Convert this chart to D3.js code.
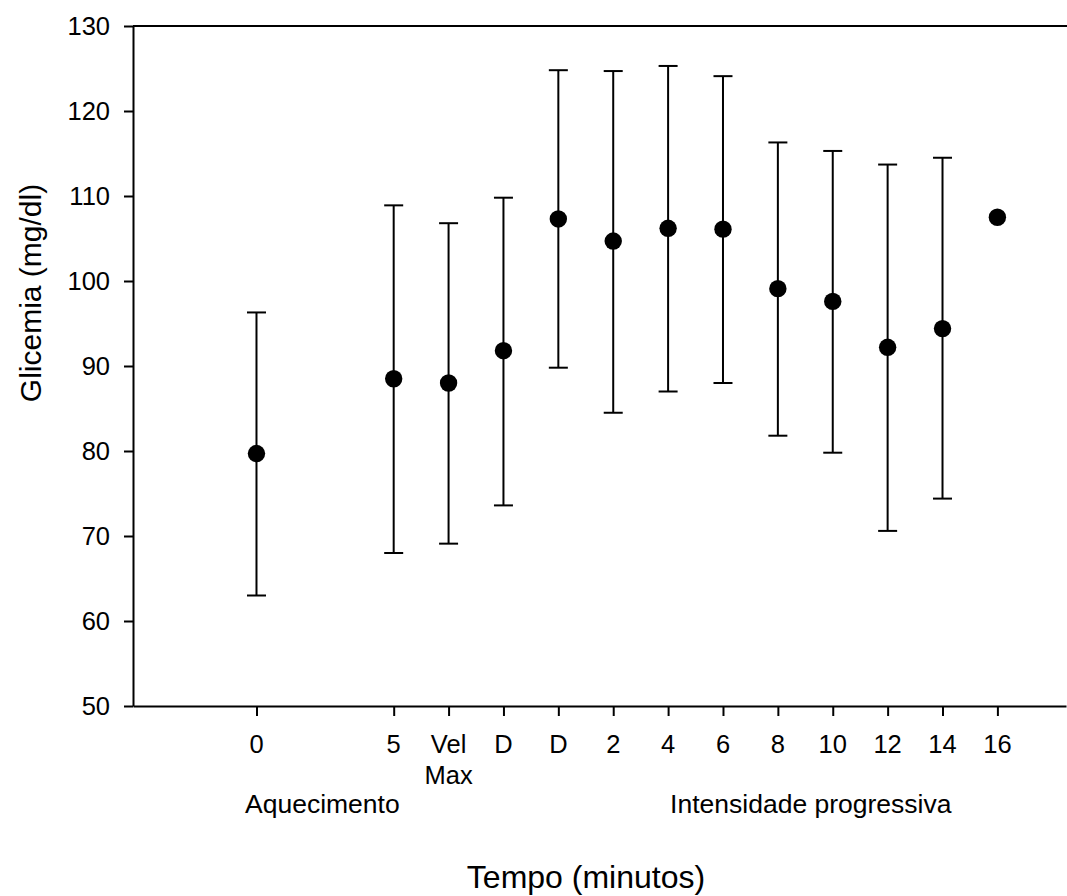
<!DOCTYPE html>
<html>
<head>
<meta charset="utf-8">
<script src="https://cdn.jsdelivr.net/npm/d3@7/dist/d3.min.js"></script>
<style>
  html, body { margin: 0; padding: 0; background: #fff; }
  svg { display: block; }
  text { font-family: "Liberation Sans", Arial, sans-serif; fill: #000; }
</style>
</head>
<body>
<svg id="chart" width="1067" height="896"></svg>
<script>
// ---- data ----
const categories = ["0", "5", "Vel\nMax", "D", "D", "2", "4", "6", "8", "10", "12", "14", "16"];
const xPositions = [0, 5, 7, 9, 11, 13, 15, 17, 19, 21, 23, 25, 27];
const meanValues = [79.7, 88.5, 88.0, 91.8, 107.3, 104.7, 106.2, 106.1, 99.1, 97.6, 92.2, 94.4, 107.5];
const upperValues = [96.3, 108.9, 106.8, 109.8, 124.8, 124.7, 125.3, 124.1, 116.3, 115.3, 113.7, 114.5, null];
const lowerValues = [63.0, 68.0, 69.1, 73.6, 89.8, 84.5, 87.0, 88.0, 81.8, 79.8, 70.6, 74.4, null];
const yTicks = [50, 60, 70, 80, 90, 100, 110, 120, 130];
const groupLabels = [
  { text: "Aquecimento", at: 2.4 },
  { text: "Intensidade progressiva", at: 20.2 }
];
const xTitle = "Tempo (minutos)";
const yTitle = "Glicemia (mg/dl)";

(function () {
  const svg = d3.select("#chart");
  const mLeft = 133, mRight = 1067, mTop = 26, mBottom = 706;

  const x = d3.scaleLinear().domain([-4.5, 29.5]).range([mLeft, mRight - 1]);
  const y = d3.scaleLinear().domain([50, 130]).range([mBottom, mTop]);

  const points = categories.map((c, i) => ({
    cat: c, x: xPositions[i], mean: meanValues[i], hi: upperValues[i], lo: lowerValues[i]
  }));

  // top border line
  svg.append("line")
    .attr("x1", mLeft).attr("x2", mRight)
    .attr("y1", mTop).attr("y2", mTop)
    .attr("stroke", "#000").attr("stroke-width", 2);

  // Y axis
  const yAxis = svg.append("g")
    .attr("transform", `translate(${mLeft},0)`)
    .call(d3.axisLeft(y).tickValues(yTicks).tickSize(9).tickSizeOuter(0).tickPadding(14));
  yAxis.select(".domain").attr("stroke-width", 2);
  yAxis.selectAll(".tick line").attr("stroke-width", 2);
  yAxis.selectAll(".tick text")
    .style("font-size", "25.5px")
    .style("font-family", "'Liberation Sans', Arial, sans-serif");

  // X axis
  const xAxis = svg.append("g")
    .attr("transform", `translate(0,${mBottom})`)
    .call(d3.axisBottom(x).tickValues(xPositions).tickSize(10).tickSizeOuter(0).tickFormat(""));
  xAxis.select(".domain").attr("stroke-width", 2);
  xAxis.selectAll(".tick line").attr("stroke-width", 2);

  // x tick labels (multi-line)
  points.forEach(p => {
    const lines = p.cat.split("\n");
    const t = svg.append("text")
      .attr("text-anchor", "middle")
      .style("font-size", "25.5px");
    lines.forEach((ln, k) => {
      t.append("tspan")
        .attr("x", x(p.x))
        .attr("y", 753 + k * 31)
        .text(ln);
    });
  });

  // group labels
  groupLabels.forEach(g => {
    svg.append("text")
      .attr("x", x(g.at)).attr("y", 813)
      .attr("text-anchor", "middle")
      .style("font-size", "26.5px")
      .text(g.text);
  });

  // axis titles
  svg.append("text")
    .attr("x", 586).attr("y", 888)
    .attr("text-anchor", "middle")
    .style("font-size", "32px")
    .text(xTitle);

  svg.append("text")
    .attr("transform", `translate(41,${(mTop + mBottom) / 2 - 73}) rotate(-90)`)
    .attr("text-anchor", "middle")
    .style("font-size", "30px")
    .text(yTitle);

  // error bars
  const capHalf = 9.5;
  const eb = svg.append("g").attr("stroke", "#000").attr("stroke-width", 2);
  points.filter(p => p.hi != null && p.lo != null).forEach(p => {
    const cx = x(p.x);
    eb.append("line").attr("x1", cx).attr("x2", cx).attr("y1", y(p.lo)).attr("y2", y(p.hi));
    eb.append("line").attr("x1", cx - capHalf).attr("x2", cx + capHalf).attr("y1", y(p.hi)).attr("y2", y(p.hi));
    eb.append("line").attr("x1", cx - capHalf).attr("x2", cx + capHalf).attr("y1", y(p.lo)).attr("y2", y(p.lo));
  });

  // points
  svg.append("g").selectAll("circle")
    .data(points)
    .join("circle")
    .attr("cx", d => x(d.x))
    .attr("cy", d => y(d.mean))
    .attr("r", 8.7)
    .attr("fill", "#000");
})();
</script>
</body>
</html>
